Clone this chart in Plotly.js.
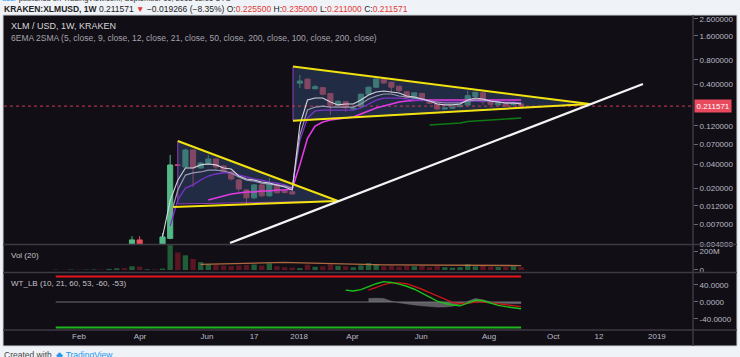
<!DOCTYPE html>
<html><head><meta charset="utf-8">
<script src="https://cdn.plot.ly/plotly-3.0.1.min.js"></script>
<style>html,body{margin:0;padding:0;background:#eff2f6;}#c{width:740px;height:357px;}</style>
</head><body><div id="c"></div>
<script>
// ---------- DATA (bar index along the time axis) ----------
const candleIdx = [0,1,4,5,6,7,8,9,10,11,12,13,14,15,16,17,18,19,20,21,22,23,24,25,26,27,28,29,30,31,32,33,34,35,36,37,38,39,40,41,42,43,44,45,46,47,48,49,50,51];
const openVals  = [0.0039,0.0045,0.0039,0.0047,0.0390,0.0367,0.0598,0.0356,0.0400,0.0462,0.0378,0.0318,0.0252,0.0189,0.0151,0.0219,0.0160,0.0225,0.0184,0.0180,
  0.410,0.460,0.350,0.360,0.303,0.217,0.240,0.195,0.208,0.298,0.365,0.462,0.420,0.375,0.320,0.265,0.305,0.252,0.233,0.195,0.199,0.208,0.218,0.280,0.310,0.245,0.219,0.233,0.219,0.2255];
const highVals  = [0.0050,0.0050,0.0055,0.0520,0.0395,0.0620,0.0610,0.0425,0.0520,0.0470,0.0390,0.0325,0.0260,0.0195,0.0225,0.0225,0.0267,0.0235,0.0187,0.0182,
  0.518,0.470,0.390,0.370,0.310,0.250,0.245,0.205,0.305,0.370,0.470,0.470,0.430,0.380,0.325,0.315,0.310,0.255,0.235,0.205,0.210,0.220,0.330,0.320,0.315,0.248,0.240,0.236,0.235,0.235];
const lowVals   = [0.0038,0.0038,0.0038,0.0046,0.0380,0.0355,0.0206,0.0350,0.0390,0.0340,0.0310,0.0250,0.0180,0.0123,0.0145,0.0155,0.0155,0.0170,0.0170,0.0165,
  0.3565,0.345,0.340,0.290,0.165,0.210,0.180,0.190,0.200,0.290,0.355,0.400,0.310,0.320,0.265,0.260,0.240,0.225,0.190,0.190,0.195,0.205,0.215,0.275,0.220,0.215,0.215,0.210,0.215,0.211];
const closeVals = [0.0045,0.0039,0.0049,0.0389,0.0385,0.0598,0.0356,0.0412,0.0462,0.0367,0.0320,0.0260,0.0195,0.0151,0.0219,0.0160,0.0231,0.0175,0.0176,0.0169,
  0.436,0.350,0.370,0.298,0.217,0.243,0.202,0.200,0.298,0.365,0.462,0.413,0.365,0.330,0.270,0.310,0.248,0.230,0.195,0.201,0.207,0.218,0.286,0.315,0.240,0.223,0.235,0.212,0.232,0.211571];

const maIdx = [4,5,6,7,8,9,10,11,12,13,14,15,16,17,18,19,20,21,22,23,24,25,26,27,28,29,30,31,32,33,34,35,36,37,38,39,40,41,42,43,44,45,46,47,48,49,50,51];
const ema5  = [0.0049,0.014,0.025,0.0356,0.0356,0.039,0.040,0.039,0.0356,0.0346,0.0283,0.026,0.0252,0.0238,0.0231,0.0219,0.0206,0.0189,
  0.123,0.252,0.267,0.267,0.238,0.219,0.225,0.225,0.252,0.291,0.318,0.327,0.318,0.309,0.283,0.275,0.260,0.245,0.225,0.219,0.219,0.225,0.252,0.267,0.260,0.245,0.238,0.2315,0.2315,0.225];
const ema12 = [null,0.0087,0.0189,0.0291,0.0309,0.0318,0.0336,0.0336,0.0327,0.0309,0.0275,0.0252,0.0245,0.0231,0.0225,0.0219,0.0212,0.020,
  0.092,0.189,0.206,0.212,0.206,0.206,0.206,0.206,0.225,0.260,0.283,0.300,0.300,0.283,0.275,0.267,0.260,0.245,0.238,0.2315,0.2315,0.2315,0.245,0.252,0.252,0.245,0.238,0.2315,0.2315,0.2315];
const ema21 = [null,0.0067,0.0142,0.020,0.0219,0.0252,0.0283,0.030,0.0309,0.0309,0.0291,0.0275,0.026,0.0252,0.0238,0.0231,0.0219,0.020,
  0.0794,0.150,0.184,0.189,0.189,0.189,0.189,0.189,0.2004,0.225,0.252,0.267,0.267,0.267,0.260,0.252,0.252,0.245,0.238,0.238,0.238,0.238,0.245,0.245,0.245,0.245,0.238,0.238,0.238,0.2315];
const ema50 = [null,null,null,null,null,null,0.0142,0.015,0.0158,0.0169,0.0174,0.0179,0.0179,0.0184,0.0184,0.0189,0.0189,0.0195,
  0.039,0.084,0.119,0.134,0.142,0.146,0.150,0.155,0.169,0.184,0.2004,0.2123,0.2249,0.238,0.245,0.250,0.252,0.252,0.252,0.252,0.252,0.252,0.252,0.252,0.252,0.252,0.252,0.252,0.252,0.252];
const smaIdx = [39,40,41,42,43,44,45,46,47,48,49,50,51];
const sma100 = [0.123,0.125,0.126,0.128,0.130,0.136,0.138,0.142,0.144,0.146,0.148,0.150,0.150];

// drawings (bar index, price)
const tri1X = [6.0, 6.0, 27.0];  const tri1Y = [0.0775, 0.01265, 0.01378];
const tri1TopX = [6.0, 27.0];    const tri1TopY = [0.0775, 0.01378];
const tri1BotX = [5.4, 27.0];    const tri1BotY = [0.0116, 0.01378];
const tri2X = [21.1, 21.1, 60.0]; const tri2Y = [0.662, 0.140, 0.2249];
const tri2TopX = [21.1, 60.0];    const tri2TopY = [0.662, 0.2249];
const tri2BotX = [21.1, 60.0];    const tri2BotY = [0.139, 0.2249];
const trendX = [12.84, 66.97];    const trendY = [0.00412, 0.40];

// volume (millions)
const volIdx = [-10,-9,-8,-7,-6,-5,-4,-3,-2,-1,0,1,2,3,4,5,6,7,8,9,10,11,12,13,14,15,16,17,18,19,20,21,22,23,24,25,26,27,28,29,30,31,32,33,34,35,36,37,38,39,40,41,42,43,44,45,46,47,48,49,50,51];
const volVals = [3,2,5,3,4,6,4,12,18,20,40,35,8,6,15,270,190,160,120,85,60,55,48,42,50,55,60,48,72,40,30,25,20,58,35,40,62,45,40,30,50,75,60,40,45,35,45,40,45,30,42,30,25,30,62,40,50,35,32,35,40,30];
const volUp   = [1,0,1,0,1,1,0,1,1,0,1,0,1,0,1,1,0,1,0,1,1,0,0,0,0,0,1,0,1,0,0,0,1,0,1,0,0,1,0,1,1,1,1,0,0,0,0,1,0,0,0,1,1,1,1,1,0,0,1,0,1,0];
const volMaIdx = [9,10,11,12,13,14,15,16,17,18,19,20,21,22,23,24,25,26,27,28,29,30,31,32,33,34,35,36,37,38,39,40,41,42,43,44,45,46,47,48,49,50,51];
const volMa = [60,62,65,68,72,75,78,80,80,80,82,82,80,78,75,72,70,68,65,62,58,55,55,55,55,55,55,52,52,50,50,50,50,48,48,50,52,55,55,55,52,50,48];

// WaveTrend
const wt1Idx = [28,29,30,31,32,33,34,35,36,37,38,39,40,41,42,43,44,45,46,47,48,49,50,51];
const wt1 = [28,26,29,36,43,48,46,42,37,30,20,10,2,-3,-7,-9,-2,4,3,-2,-8,-11,-13,-16];
const wt2Idx = [31,32,33,34,35,36,37,38,39,40,41,42,43,44,45,46,47,48,49,50,51];
const wt2 = [28,35,41,45,45,43,37,30,22,14,6,-1,-4,-3,0,0,-2,-4,-6,-8,-11];
const wtDiff = [8,9,8,2,-2,-5,-7,-9,-11,-12,-12,-10,-5,2,8,5,0,-3,-4,-4,-4];
const wtLevels = [60, 0, -60];

const xTickVals = [-6.95, 1.05, 9.83, 16.0, 21.9, 28.9, 37.9, 46.8, 55.2, 61.2, 68.8];
const xTickText = ['Feb','Apr','Jun','17','2018','Apr','Jun','Aug','Oct','12','2019'];
const yTickVals = [2.6,1.6,0.8,0.4,0.12,0.07,0.04,0.02,0.012,0.007,0.004];
const yTickText = ['2.600000','1.600000','0.800000','0.400000','0.120000','0.070000','0.040000','0.020000','0.012000','0.007000','0.004000'];

// ---------- LAYOUT HELPERS ----------
const X_RANGE = [-16.78, 73.53];
const px = v => (v - 4) / 689;     // pixel -> paper x
const py = v => (330 - v) / 315;   // pixel -> paper y
const BG = '#120e16', TXT = '#b8bcc5', UP = '#53b987', DN = '#eb4d5c', YEL = '#f2e30f';
const FONT = 'Liberation Sans, Arial, sans-serif';
const lastClose = closeVals[closeVals.length - 1];
const firstLvl = volIdx[0], lastLvl = candleIdx[candleIdx.length - 1];

const traces = [];
traces.push({x: tri1X, y: tri1Y, type: 'scatter', mode: 'lines', fill: 'toself', fillcolor: 'rgba(45,68,105,0.55)', line: {color: '#8e3fc0', width: 1}, xaxis: 'x', yaxis: 'y'});
traces.push({x: tri2X, y: tri2Y, type: 'scatter', mode: 'lines', fill: 'toself', fillcolor: 'rgba(45,68,105,0.55)', line: {color: '#8e3fc0', width: 1}, xaxis: 'x', yaxis: 'y'});
traces.push({x: X_RANGE, y: [lastClose, lastClose], type: 'scatter', mode: 'lines', line: {color: '#d2374a', width: 1, dash: 'dot'}, yaxis: 'y'});
traces.push({x: maIdx, y: ema50, type: 'scatter', mode: 'lines', line: {color: '#e33be3', width: 1.6}, yaxis: 'y'});
traces.push({x: maIdx, y: ema21, type: 'scatter', mode: 'lines', line: {color: '#7b33c9', width: 1.3}, yaxis: 'y'});
traces.push({x: maIdx, y: ema12, type: 'scatter', mode: 'lines', line: {color: '#9b96b4', width: 1.2}, yaxis: 'y'});
traces.push({x: maIdx, y: ema5, type: 'scatter', mode: 'lines', line: {color: '#d4d4dc', width: 1.1}, yaxis: 'y'});
traces.push({x: smaIdx, y: sma100, type: 'scatter', mode: 'lines', line: {color: '#0f7a14', width: 1.6}, yaxis: 'y'});
traces.push({type: 'candlestick', x: candleIdx, open: openVals, high: highVals, low: lowVals, close: closeVals,
  increasing: {line: {color: UP, width: 1}, fillcolor: UP}, decreasing: {line: {color: DN, width: 1}, fillcolor: DN},
  whiskerwidth: 0, xaxis: 'x', yaxis: 'y'});
traces.push({x: tri1TopX, y: tri1TopY, type: 'scatter', mode: 'lines', line: {color: YEL, width: 2}, yaxis: 'y'});
traces.push({x: tri1BotX, y: tri1BotY, type: 'scatter', mode: 'lines', line: {color: YEL, width: 2}, yaxis: 'y'});
traces.push({x: tri2TopX, y: tri2TopY, type: 'scatter', mode: 'lines', line: {color: YEL, width: 2}, yaxis: 'y'});
traces.push({x: tri2BotX, y: tri2BotY, type: 'scatter', mode: 'lines', line: {color: YEL, width: 2}, yaxis: 'y'});
traces.push({x: trendX, y: trendY, type: 'scatter', mode: 'lines', line: {color: '#f4f4f4', width: 2.2}, yaxis: 'y'});
traces.push({type: 'bar', x: volIdx, y: volVals.map(v => v * 1e6), width: 0.7,
  marker: {color: volUp.map(u => u ? 'rgba(40,120,70,0.75)' : 'rgba(110,25,38,0.8)'), line: {width: 0}}, yaxis: 'y2'});
traces.push({x: volMaIdx, y: volMa.map(v => v * 1e6), type: 'scatter', mode: 'lines', line: {color: 'rgba(214,128,74,0.8)', width: 1.3}, yaxis: 'y2'});
traces.push({x: [firstLvl, lastLvl], y: [wtLevels[1], wtLevels[1]], type: 'scatter', mode: 'lines', line: {color: '#4e4e52', width: 1.5}, yaxis: 'y3'});
traces.push({x: wt2Idx, y: wtDiff, type: 'scatter', mode: 'lines', fill: 'tozeroy', fillcolor: 'rgba(120,120,125,0.75)', line: {color: 'rgba(120,120,125,0.8)', width: 0.5}, yaxis: 'y3'});
traces.push({x: [firstLvl, lastLvl], y: [wtLevels[0], wtLevels[0]], type: 'scatter', mode: 'lines', line: {color: '#e3141c', width: 2}, yaxis: 'y3'});
traces.push({x: [firstLvl, lastLvl], y: [wtLevels[2], wtLevels[2]], type: 'scatter', mode: 'lines', line: {color: '#1fb51f', width: 2}, yaxis: 'y3'});
traces.push({x: wt2Idx, y: wt2, type: 'scatter', mode: 'lines', line: {color: '#c41616', width: 1.4}, yaxis: 'y3'});
traces.push({x: wt1Idx, y: wt1, type: 'scatter', mode: 'lines', line: {color: '#19c219', width: 1.4}, yaxis: 'y3'});

const yAxBase = {side: 'right', anchor: 'x', showgrid: false, zeroline: false, ticks: 'outside', ticklen: 4, tickcolor: '#6a6a70',
  tickfont: {family: FONT, size: 8, color: TXT}, showline: false, fixedrange: true};

const sepColor = '#3d3a44';
const layout = {
  width: 740, height: 357, margin: {l: 4, r: 47, t: 15, b: 27},
  paper_bgcolor: '#eff2f6', plot_bgcolor: BG, showlegend: false, hovermode: false,
  boxgap: 0.18, boxgroupgap: 0.18,
  xaxis: {range: X_RANGE, anchor: 'y3', showgrid: false, zeroline: false, showline: false, ticks: '',
    tickmode: 'array', tickvals: xTickVals, ticktext: xTickText, tickfont: {family: FONT, size: 8, color: TXT},
    rangeslider: {visible: false}, fixedrange: true},
  yaxis: Object.assign({}, yAxBase, {domain: [py(244), 1], type: 'log', range: [-2.398, 0.4645], tickmode: 'array', tickvals: yTickVals, ticktext: yTickText}),
  yaxis2: Object.assign({}, yAxBase, {domain: [py(272), py(245)], range: [-22e6, 272e6], tickmode: 'array', tickvals: [0, 200e6], ticktext: ['0', '200M']}),
  yaxis3: Object.assign({}, yAxBase, {domain: [0, py(273)], range: [-65.9, 68.2], tickmode: 'array', tickvals: [40, 0, -40], ticktext: ['40.0000', '0.0000', '-40.0000']}),
  shapes: [
    {type: 'rect', xref: 'paper', yref: 'paper', x0: px(3), x1: px(737), y0: py(346), y1: py(15), fillcolor: BG, line: {color: '#cfd3da', width: 1}, layer: 'below'},
    {type: 'line', xref: 'paper', yref: 'paper', x0: px(3), x1: px(737), y0: py(244.5), y1: py(244.5), line: {color: sepColor, width: 1.5}},
    {type: 'line', xref: 'paper', yref: 'paper', x0: px(3), x1: px(737), y0: py(272.5), y1: py(272.5), line: {color: sepColor, width: 1.5}},
    {type: 'line', xref: 'paper', yref: 'paper', x0: px(3), x1: px(737), y0: 0, y1: 0, line: {color: sepColor, width: 1.5}},
    {type: 'line', xref: 'paper', yref: 'paper', x0: 1, x1: 1, y0: 0, y1: 1, line: {color: sepColor, width: 1.5}},
    {type: 'line', xref: 'paper', yref: 'paper', x0: 1, x1: 1, y0: py(330), y1: py(346), line: {color: sepColor, width: 1.5}}
  ],
  annotations: [
    {xref: 'paper', yref: 'paper', x: px(0), y: py(-1.5), xanchor: 'left', yanchor: 'middle', showarrow: false,
      text: '<span style="color:#2196f3">user</span> published on TradingView.com, September 10, 2018 12:06 UTC', font: {family: FONT, size: 7.5, color: '#333'}},
    {xref: 'paper', yref: 'paper', x: px(2), y: py(8.5), xanchor: 'left', yanchor: 'middle', showarrow: false,
      text: '<b>KRAKEN:XLMUSD, 1W</b> 0.211571 <span style="color:#e53935">▼</span> −0.019266 (−8.35%) O:<span style="color:#e53935">0.225500</span> H:<span style="color:#e53935">0.235000</span> L:<span style="color:#e53935">0.211000</span> C:<span style="color:#e53935">0.211571</span>',
      font: {family: FONT, size: 8.5, color: '#222'}},
    {xref: 'paper', yref: 'paper', x: px(9), y: py(26), xanchor: 'left', yanchor: 'middle', showarrow: false,
      text: 'XLM / USD, 1W, KRAKEN', font: {family: FONT, size: 9, color: '#d6d6da'}},
    {xref: 'paper', yref: 'paper', x: px(9), y: py(38), xanchor: 'left', yanchor: 'middle', showarrow: false,
      text: '6EMA 2SMA (5, close, 9, close, 12, close, 21, close, 50, close, 200, close, 100, close, 200, close)', font: {family: FONT, size: 8.5, color: '#a3a3aa'}},
    {xref: 'paper', yref: 'paper', x: px(9), y: py(255), xanchor: 'left', yanchor: 'middle', showarrow: false,
      text: 'Vol (20)', font: {family: FONT, size: 8, color: '#c3c3c8'}},
    {xref: 'paper', yref: 'paper', x: px(9), y: py(283), xanchor: 'left', yanchor: 'middle', showarrow: false,
      text: 'WT_LB (10, 21, 60, 53, -60, -53)', font: {family: FONT, size: 8, color: '#c3c3c8'}},
    {xref: 'paper', yref: 'y', x: 1, y: Math.log10(lastClose), xanchor: 'left', yanchor: 'middle', showarrow: false, xshift: 1,
      text: lastClose.toFixed(6), font: {family: FONT, size: 8, color: '#ffffff'}, bgcolor: '#ea4a5d', borderpad: 1.5},
    {xref: 'paper', yref: 'paper', x: px(2), y: py(355), xanchor: 'left', yanchor: 'middle', showarrow: false,
      text: 'Created with  <span style="color:#2196f3">◆ TradingView</span>', font: {family: FONT, size: 8.5, color: '#444'}}
  ]
};

Plotly.newPlot('c', traces, layout, {staticPlot: true, displayModeBar: false});
</script>
</body></html>
